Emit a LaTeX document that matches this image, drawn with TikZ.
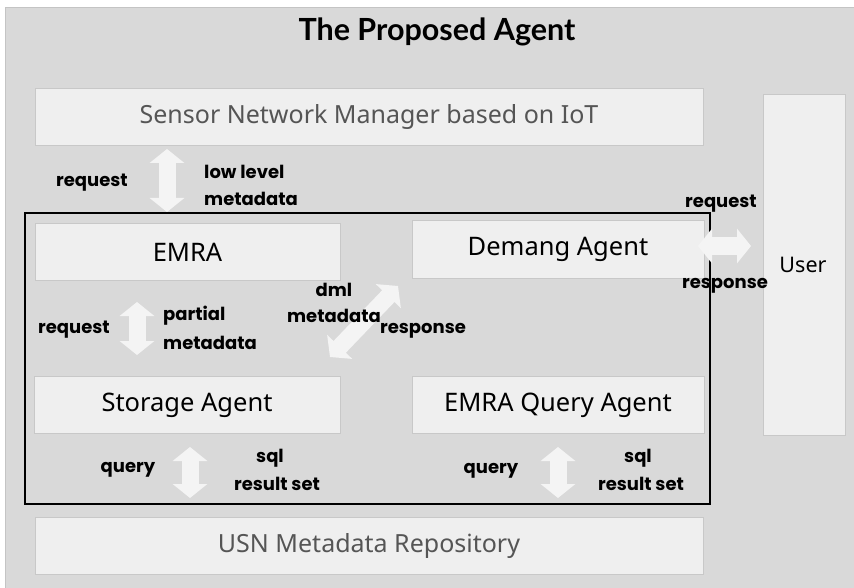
\documentclass[tikz,border=0pt]{standalone}
\usepackage{fontspec}
\setmainfont{Noto Sans}
\newfontfamily\titlefont{Lato}
\newfontfamily\labelfont{Poppins}
\usetikzlibrary{arrows.meta}
\definecolor{pagebg}{HTML}{D9D9D9}
\definecolor{pageline}{HTML}{C4C4C4}
\definecolor{boxfill}{HTML}{EFEFEF}
\definecolor{boxline}{HTML}{C8C8C8}
\definecolor{fatarrow}{HTML}{F4F4F4}
\definecolor{dimtext}{HTML}{555555}
\tikzset{
  box/.style={draw=boxline, line width=1pt, fill=boxfill, inner sep=0pt,
    font=\fontsize{25.5}{30}\selectfont},
  widebox/.style={box, minimum width=668pt, minimum height=57pt, text=dimtext,
    font=\fontsize{25}{30}\selectfont},
  agentbox/.style={box, minimum height=57pt},
  lbl/.style={font=\labelfont\fontsize{18}{21}\selectfont\bfseries, inner sep=0pt, align=center},
  fat/.style={draw=fatarrow, line width=17pt,
    {Triangle[width=34pt,length=14pt]}-{Triangle[width=34pt,length=14pt]}}
}
\begin{document}
\begin{tikzpicture}[x=1pt,y=-1pt]
\useasboundingbox (0,0) rectangle (854,588);
% page background
\fill[white] (0,0) rectangle (854,588);
\draw[pageline, fill=pagebg, line width=1pt] (5,8) rectangle (860,594);

\node[font=\titlefont\fontsize{30.5}{35}\selectfont\bfseries] (title) at (437,32) {The Proposed Agent};

% outer layers
\node[widebox] (snm) at (369,117.5) {Sensor Network Manager based on IoT};
\node[widebox] (usn) at (369,546) {USN Metadata Repository};
\node[box, minimum width=82pt, minimum height=341pt, anchor=north west] (user) at (763,94) {};
\node[font=\fontsize{21.5}{26}\selectfont] (usertxt) at (803,265) {User};

% agent frame
\draw[black, line width=1.2pt] (25,213) rectangle (710,504);
\node[agentbox, minimum width=305pt] (emra) at (187.5,252) {EMRA};
\node[agentbox, minimum width=292pt] (demang) at (558,249.5) {Demang Agent};
\node[agentbox, minimum width=306pt] (storage) at (187,405) {Storage Agent};
\node[agentbox, minimum width=292pt] (query) at (558,405) {EMRA Query Agent};

% arrow end points
\coordinate (t1) at (167,149);
\coordinate (t2) at (167,212);
\coordinate (m1) at (137,302);
\coordinate (m2) at (137,355);
\coordinate (d1) at (330,357);
\coordinate (d2) at (398,286);
\coordinate (u1) at (698,246);
\coordinate (u2) at (751,246);
\coordinate (s1) at (190,447);
\coordinate (s2) at (190,498);
\coordinate (q1) at (558,447);
\coordinate (q2) at (558,498);

\draw[fat] (t1) -- (t2);
\draw[fat] (m1) -- (m2);
\draw[fat] (d1) -- (d2);
\draw[fat] (u1) -- (u2);
\draw[fat] (s1) -- (s2);
\draw[fat] (q1) -- (q2);

% flow labels
\node[lbl] (l1) at (92,183) {request};
\node[lbl, anchor=west] (l2) at (204,172) {low level};
\node[lbl, anchor=west] (l3) at (204,199) {metadata};
\node[lbl] (l4) at (74,330) {request};
\node[lbl, anchor=west] (l5) at (163,316) {partial};
\node[lbl, anchor=west] (l6) at (163,343) {metadata};
\node[lbl] (l7) at (334,290) {dml};
\node[lbl] (l8) at (334,316) {metadata};
\node[lbl] (l9) at (423,331) {response};
\node[lbl] (l10) at (721,204) {request};
\node[lbl] (l11) at (725,286) {response};
\node[lbl] (l12) at (128,470) {query};
\node[lbl] (l13) at (270,458) {sql};
\node[lbl] (l14) at (277,484) {result set};
\node[lbl] (l15) at (491,471) {query};
\node[lbl] (l16) at (638,458) {sql};
\node[lbl] (l17) at (641,484) {result set};
\end{tikzpicture}
\end{document}
